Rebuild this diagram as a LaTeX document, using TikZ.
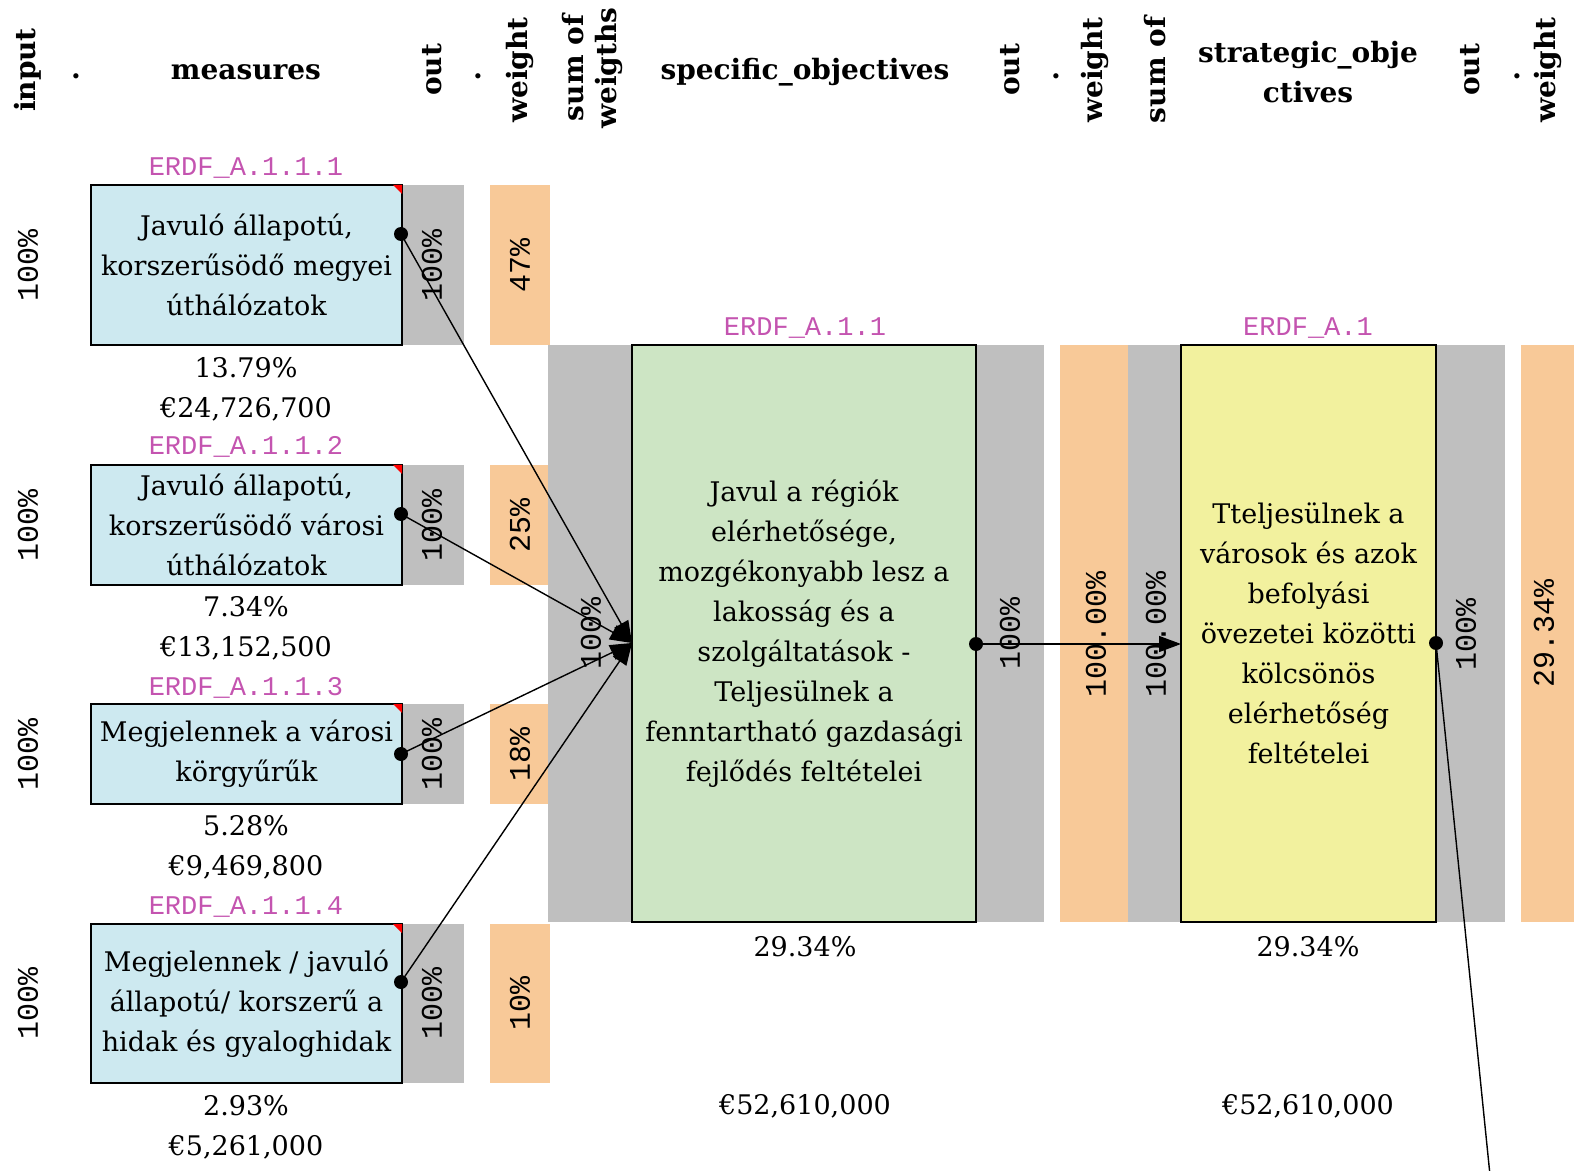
\documentclass[tikz,border=0pt]{standalone}
\usepackage{fontspec}
\setmainfont{DejaVu Serif}
\newfontfamily\monof{Liberation Mono}
\usetikzlibrary{arrows.meta}
\definecolor{mblue}{RGB}{205,233,240}
\definecolor{sgray}{RGB}{191,191,191}
\definecolor{sorange}{RGB}{248,201,152}
\definecolor{sgreen}{RGB}{205,229,196}
\definecolor{syellow}{RGB}{242,241,158}
\definecolor{lblpurple}{RGB}{196,84,176}
\begin{document}
\begin{tikzpicture}[x=0.5pt,y=-0.5pt,
  hdr/.style={font=\bfseries\fontsize{14}{17}\selectfont,align=center,inner sep=0},
  vhdr/.style={hdr,rotate=90},
  pct/.style={font=\monof\fontsize{15}{18}\selectfont,rotate=90,inner sep=0},
  code/.style={font=\monof\fontsize{13.5}{16}\selectfont,text=lblpurple,inner sep=0},
  body/.style={font=\fontsize{13.5}{20}\selectfont,align=center,inner sep=0},
  mbox/.style={body,draw=black,line width=1pt,fill=mblue,minimum width=155.5pt},
  sobox/.style={body,draw=black,line width=1pt,fill=sgreen,minimum width=172pt,minimum height=288.5pt},
  stbox/.style={body,draw=black,line width=1pt,fill=syellow,minimum width=127.5pt,minimum height=288.5pt},
  conn/.style={line width=0.7pt,-{Triangle[length=11pt,width=8pt]}},
  link/.style={line width=0.7pt},
  redtri/.style={fill=red}
]
\useasboundingbox (0,0) rectangle (1574,1171);
\clip (0,0) rectangle (1574,1171);
% strips
\fill[sgray] (402,185) rectangle (464,345);
\fill[sgray] (402,465) rectangle (464,585);
\fill[sgray] (402,704) rectangle (464,804);
\fill[sgray] (402,924) rectangle (464,1083);
\fill[sorange] (490,185) rectangle (550,345);
\fill[sorange] (490,465) rectangle (548,585);
\fill[sorange] (490,704) rectangle (548,804);
\fill[sorange] (490,924) rectangle (550,1083);
\fill[sgray] (548,345) rectangle (632,922);
\fill[sgray] (976,345) rectangle (1044,922);
\fill[sorange] (1060,345) rectangle (1128,922);
\fill[sgray] (1128,345) rectangle (1181,922);
\fill[sgray] (1436,345) rectangle (1505,922);
\fill[sorange] (1521,345) rectangle (1590,922);
% headers
\node[vhdr] (h1) at (28,70) {input};
\node[hdr] (h2) at (76,76) {.};
\node[hdr] (h3) at (246,72) {measures};
\node[vhdr] (h4) at (432,70) {out};
\node[hdr] (h5) at (478,76) {.};
\node[vhdr] (h6) at (520,70) {weight};
\node[vhdr,font=\bfseries\fontsize{14}{16.5}\selectfont] (h7) at (592,68) {sum of\\weigths};
\node[hdr] (h8) at (805,72) {specific\_objectives};
\node[vhdr] (h9) at (1010,70) {out};
\node[hdr] (h10) at (1056,76) {.};
\node[vhdr] (h11) at (1095,70) {weight};
\node[vhdr] (h12) at (1155,70) {sum of};
\node[hdr,font=\bfseries\fontsize{14}{20}\selectfont] (h13) at (1308,72) {strategic\_obje\\ctives};
\node[vhdr] (h14) at (1470,70) {out};
\node[hdr] (h15) at (1517,76) {.};
\node[vhdr] (h16) at (1548,70) {weight};
% measure boxes
\node[mbox,minimum height=80pt] (m1) at (246.5,265) {Javuló állapotú,\\korszerűsödő megyei\\úthálózatok};
\node[mbox,minimum height=60pt] (m2) at (246.5,525) {Javuló állapotú,\\korszerűsödő városi\\úthálózatok};
\node[mbox,minimum height=50pt] (m3) at (246.5,754) {Megjelennek a városi\\körgyűrűk};
\node[mbox,minimum height=79.5pt] (m4) at (246.5,1003.5) {Megjelennek / javuló\\állapotú/ korszerű a\\hidak és gyaloghidak};
\foreach \b in {m1,m2,m3,m4}{
  \fill[redtri] ([xshift=-5pt,yshift=-0.5pt]\b.north east) -- ([xshift=-0.5pt,yshift=-0.5pt]\b.north east) -- ([xshift=-0.5pt,yshift=-5pt]\b.north east) -- cycle;
}
% objective boxes
\node[sobox] (so) at (804,633.5) {Javul a régiók\\elérhetősége,\\mozgékonyabb lesz a\\lakosság és a\\szolgáltatások -\\Teljesülnek a\\fenntartható gazdasági\\fejlődés feltételei};
\node[stbox] (st) at (1308.5,633.5) {Tteljesülnek a\\városok és azok\\befolyási\\övezetei közötti\\kölcsönös\\elérhetőség\\feltételei};
% codes
\node[code] (c1) at (246,168) {ERDF\_A.1.1.1};
\node[code] (c2) at (246,447) {ERDF\_A.1.1.2};
\node[code] (c3) at (246,688) {ERDF\_A.1.1.3};
\node[code] (c4) at (246,907) {ERDF\_A.1.1.4};
\node[code] (c5) at (805,328) {ERDF\_A.1.1};
\node[code] (c6) at (1308,328) {ERDF\_A.1};
% values below boxes
\node[body] (v1) at (246,389) {13.79\%\\€24,726,700};
\node[body] (v2) at (246,628) {7.34\%\\€13,152,500};
\node[body] (v3) at (246,847) {5.28\%\\€9,469,800};
\node[body] (v4) at (246,1127) {2.93\%\\€5,261,000};
\node[body] (v5) at (805,947) {29.34\%};
\node[body] (v6) at (805,1106) {€52,610,000};
\node[body] (v7) at (1308,947) {29.34\%};
\node[body] (v8) at (1308,1106) {€52,610,000};
% rotated percentages
\node[pct] (i1) at (28,265) {100\%};
\node[pct] (i2) at (28,525) {100\%};
\node[pct] (i3) at (28,754) {100\%};
\node[pct] (i4) at (28,1003) {100\%};
\node[pct] (o1) at (432,265) {100\%};
\node[pct] (o2) at (432,525) {100\%};
\node[pct] (o3) at (432,754) {100\%};
\node[pct] (o4) at (432,1003) {100\%};
\node[pct] (w1) at (520,265) {47\%};
\node[pct] (w2) at (520,525) {25\%};
\node[pct] (w3) at (520,754) {18\%};
\node[pct] (w4) at (520,1003) {10\%};
\node[pct] (s1) at (591,633) {100\%};
\node[pct] (s2) at (1010,633) {100\%};
\node[pct] (s3) at (1096,634) {100.00\%};
\node[pct] (s4) at (1156,634) {100.00\%};
\node[pct] (s5) at (1466,634) {100\%};
\node[pct] (s6) at (1544,633) {29.34\%};
% connectors
\coordinate (d1) at (401,234);
\coordinate (d2) at (401,514);
\coordinate (d3) at (401,754);
\coordinate (d4) at (401,982);
\coordinate (soin) at (632,643);
\coordinate (soout) at (976,644);
\coordinate (stin) at (1181,644);
\coordinate (stout) at (1436,643);
\coordinate (offend) at (1492,1195);
\draw[conn] (d1) -- (soin);
\draw[conn] (d2) -- (soin);
\draw[conn] (d3) -- (soin);
\draw[conn] (d4) -- (soin);
\draw[conn] (soout) -- (stin);
\draw[link] (stout) -- (offend);
\foreach \d in {d1,d2,d3,d4,soout,stout}{
  \fill (\d) circle[radius=3.5pt];
}
\end{tikzpicture}
\end{document}
